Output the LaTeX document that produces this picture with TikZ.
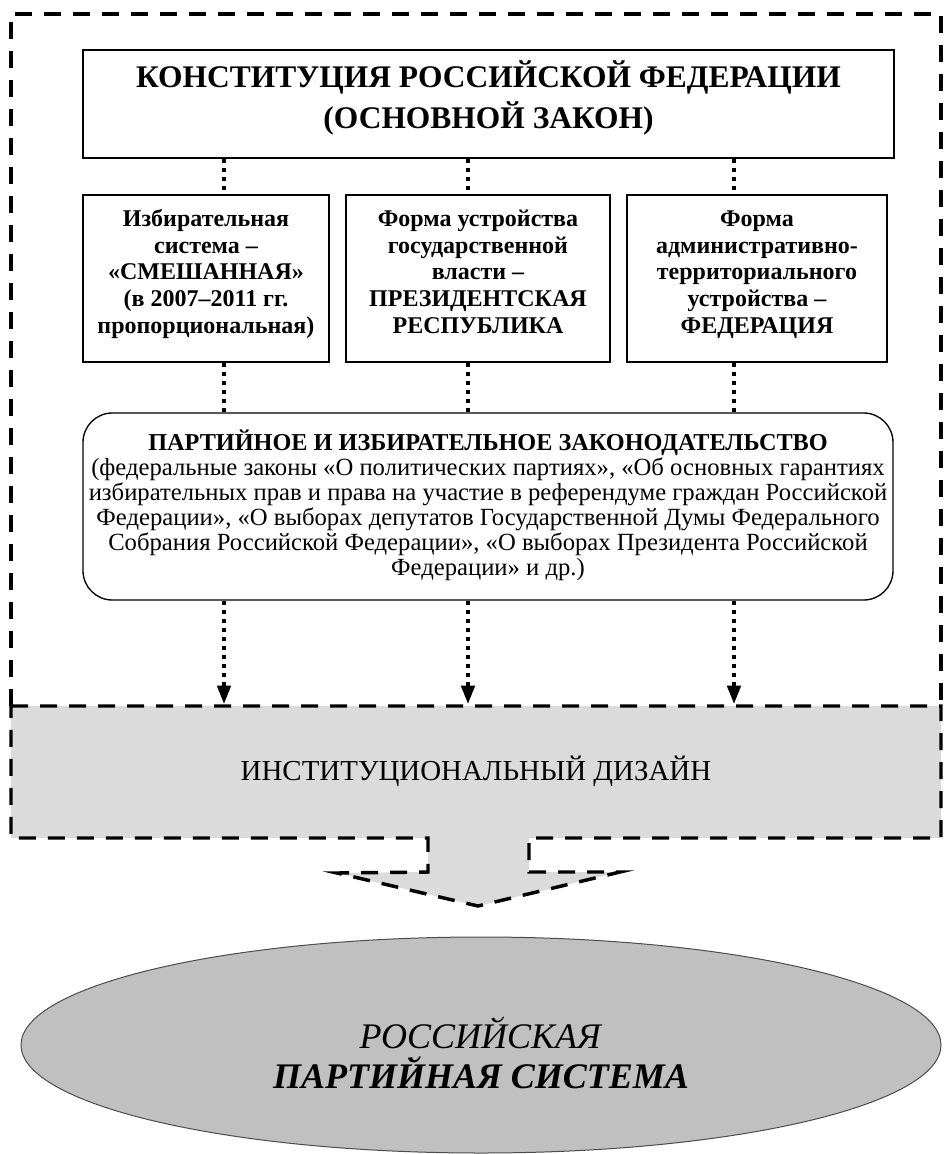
\documentclass[tikz,border=0pt]{standalone}
\usepackage{fontspec}
\setmainfont{Liberation Serif}
\usetikzlibrary{shapes.geometric,arrows.meta}

\definecolor{designgray}{RGB}{219,219,219}
\definecolor{partygray}{RGB}{192,192,192}

\tikzset{every picture/.style={line width=0.75pt},
  framebox/.style={draw, line width=1pt, align=center, inner sep=0pt, text depth=0pt},
  lawbox/.style={framebox, rounded corners=22pt},
  dotline/.style={line width=3.2pt, dash pattern=on 3pt off 3.75pt},
  dotarrow/.style={dotline, -{Triangle[length=13.5pt,width=11pt,line width=0pt]}},
  frameline/.style={line width=2.6pt, dash pattern=on 12.75pt off 9pt}
}

\begin{document}
\begin{tikzpicture}[x=0.75pt,y=0.75pt,yscale=-1,xscale=1]
\useasboundingbox (0,0) rectangle (944,1154);

%Dashed frame round the legal part
\draw [frameline] (11,706) -- (11,14) -- (941,14) -- (941,706) ;
%Institutional design with its arrow
\draw [frameline, fill=designgray] (11,706) -- (941,706) -- (941,838) -- (529,838) -- (529,872) -- (620,872) -- (478,906) -- (337,873) -- (428,872) -- (428,838) -- (11,838) -- cycle ;

%Columns of the connectors
\coordinate (c1) at (224,0);
\coordinate (c2) at (468,0);
\coordinate (c3) at (734,0);

% Constitution
\node [framebox, minimum width=811*0.75pt, minimum height=108*0.75pt, text height=36.75pt,
  font=\fontsize{23.6pt}{31pt}\selectfont\bfseries] (const) at (488.5,104)
  {КОНСТИТУЦИЯ РОССИЙСКОЙ ФЕДЕРАЦИИ\\(ОСНОВНОЙ ЗАКОН)};

% Three boxes
\node [framebox, minimum width=246*0.75pt, minimum height=167*0.75pt, text height=81.75pt,
  font=\fontsize{18pt}{19.9pt}\selectfont\bfseries] (izb) at (206,278.5)
  {Избирательная\\система –\\«СМЕШАННАЯ»\\(в 2007–2011 гг.\\пропорциональная)};
\node [framebox, minimum width=264*0.75pt, minimum height=167*0.75pt, text height=81.75pt,
  font=\fontsize{18pt}{19.9pt}\selectfont\bfseries] (form) at (478,278.5)
  {Форма устройства\\государственной\\власти –\\ПРЕЗИДЕНТСКАЯ\\РЕСПУБЛИКА};
\node [framebox, minimum width=260*0.75pt, minimum height=167*0.75pt, text height=81.75pt,
  font=\fontsize{18pt}{19.9pt}\selectfont\bfseries] (terr) at (757,278.5)
  {Форма\\административно-\\территориального\\устройства –\\ФЕДЕРАЦИЯ};

% Legislation
\node [lawbox, minimum width=810*0.75pt, minimum height=187*0.75pt, text height=102.75pt,
  font=\fontsize{18.5pt}{18.75pt}\selectfont] (law) at (488,506.5)
  {\textbf{\fontsize{18.2pt}{18.75pt}\selectfont ПАРТИЙНОЕ И ИЗБИРАТЕЛЬНОЕ ЗАКОНОДАТЕЛЬСТВО}\\
   (федеральные законы «О политических партиях», «Об основных гарантиях\\
   избирательных прав и права на участие в референдуме граждан Российской\\
   Федерации», «О выборах депутатов Государственной Думы Федерального\\
   Собрания Российской Федерации», «О выборах Президента Российской\\
   Федерации» и др.)};

% Design
\node [inner sep=0pt, minimum width=930*0.75pt, minimum height=132*0.75pt,
  text height=12pt, text depth=0pt, font=\fontsize{21.7pt}{25pt}\selectfont] (design) at (476,772)
  {ИНСТИТУЦИОНАЛЬНЫЙ ДИЗАЙН};

% Party system
\node [ellipse, draw=black!70, line width=0.75pt, fill=partygray, align=center, inner sep=0pt,
  minimum width=920*0.75pt, minimum height=216*0.75pt, text height=64.5pt, text depth=0pt,
  font=\fontsize{27pt}{30pt}\selectfont] (party) at (481,1045)
  {\textit{РОССИЙСКАЯ}\\\textbf{\textit{ПАРТИЙНАЯ СИСТЕМА}}};

%Straight Lines
\draw [dotline] (const.south -| c1) -- (izb.north -| c1) ;
\draw [dotline] (const.south -| c2) -- (form.north -| c2) ;
\draw [dotline] (const.south -| c3) -- (terr.north -| c3) ;
\draw [dotline] (izb.south -| c1) -- (law.north -| c1) ;
\draw [dotline] (form.south -| c2) -- (law.north -| c2) ;
\draw [dotline] (terr.south -| c3) -- (law.north -| c3) ;
\draw [dotarrow] (law.south -| c1) -- ([yshift=-1.5pt]design.north -| c1) ;
\draw [dotarrow] (law.south -| c2) -- ([yshift=-1.5pt]design.north -| c2) ;
\draw [dotarrow] (law.south -| c3) -- ([yshift=-1.5pt]design.north -| c3) ;

\end{tikzpicture}
\end{document}
